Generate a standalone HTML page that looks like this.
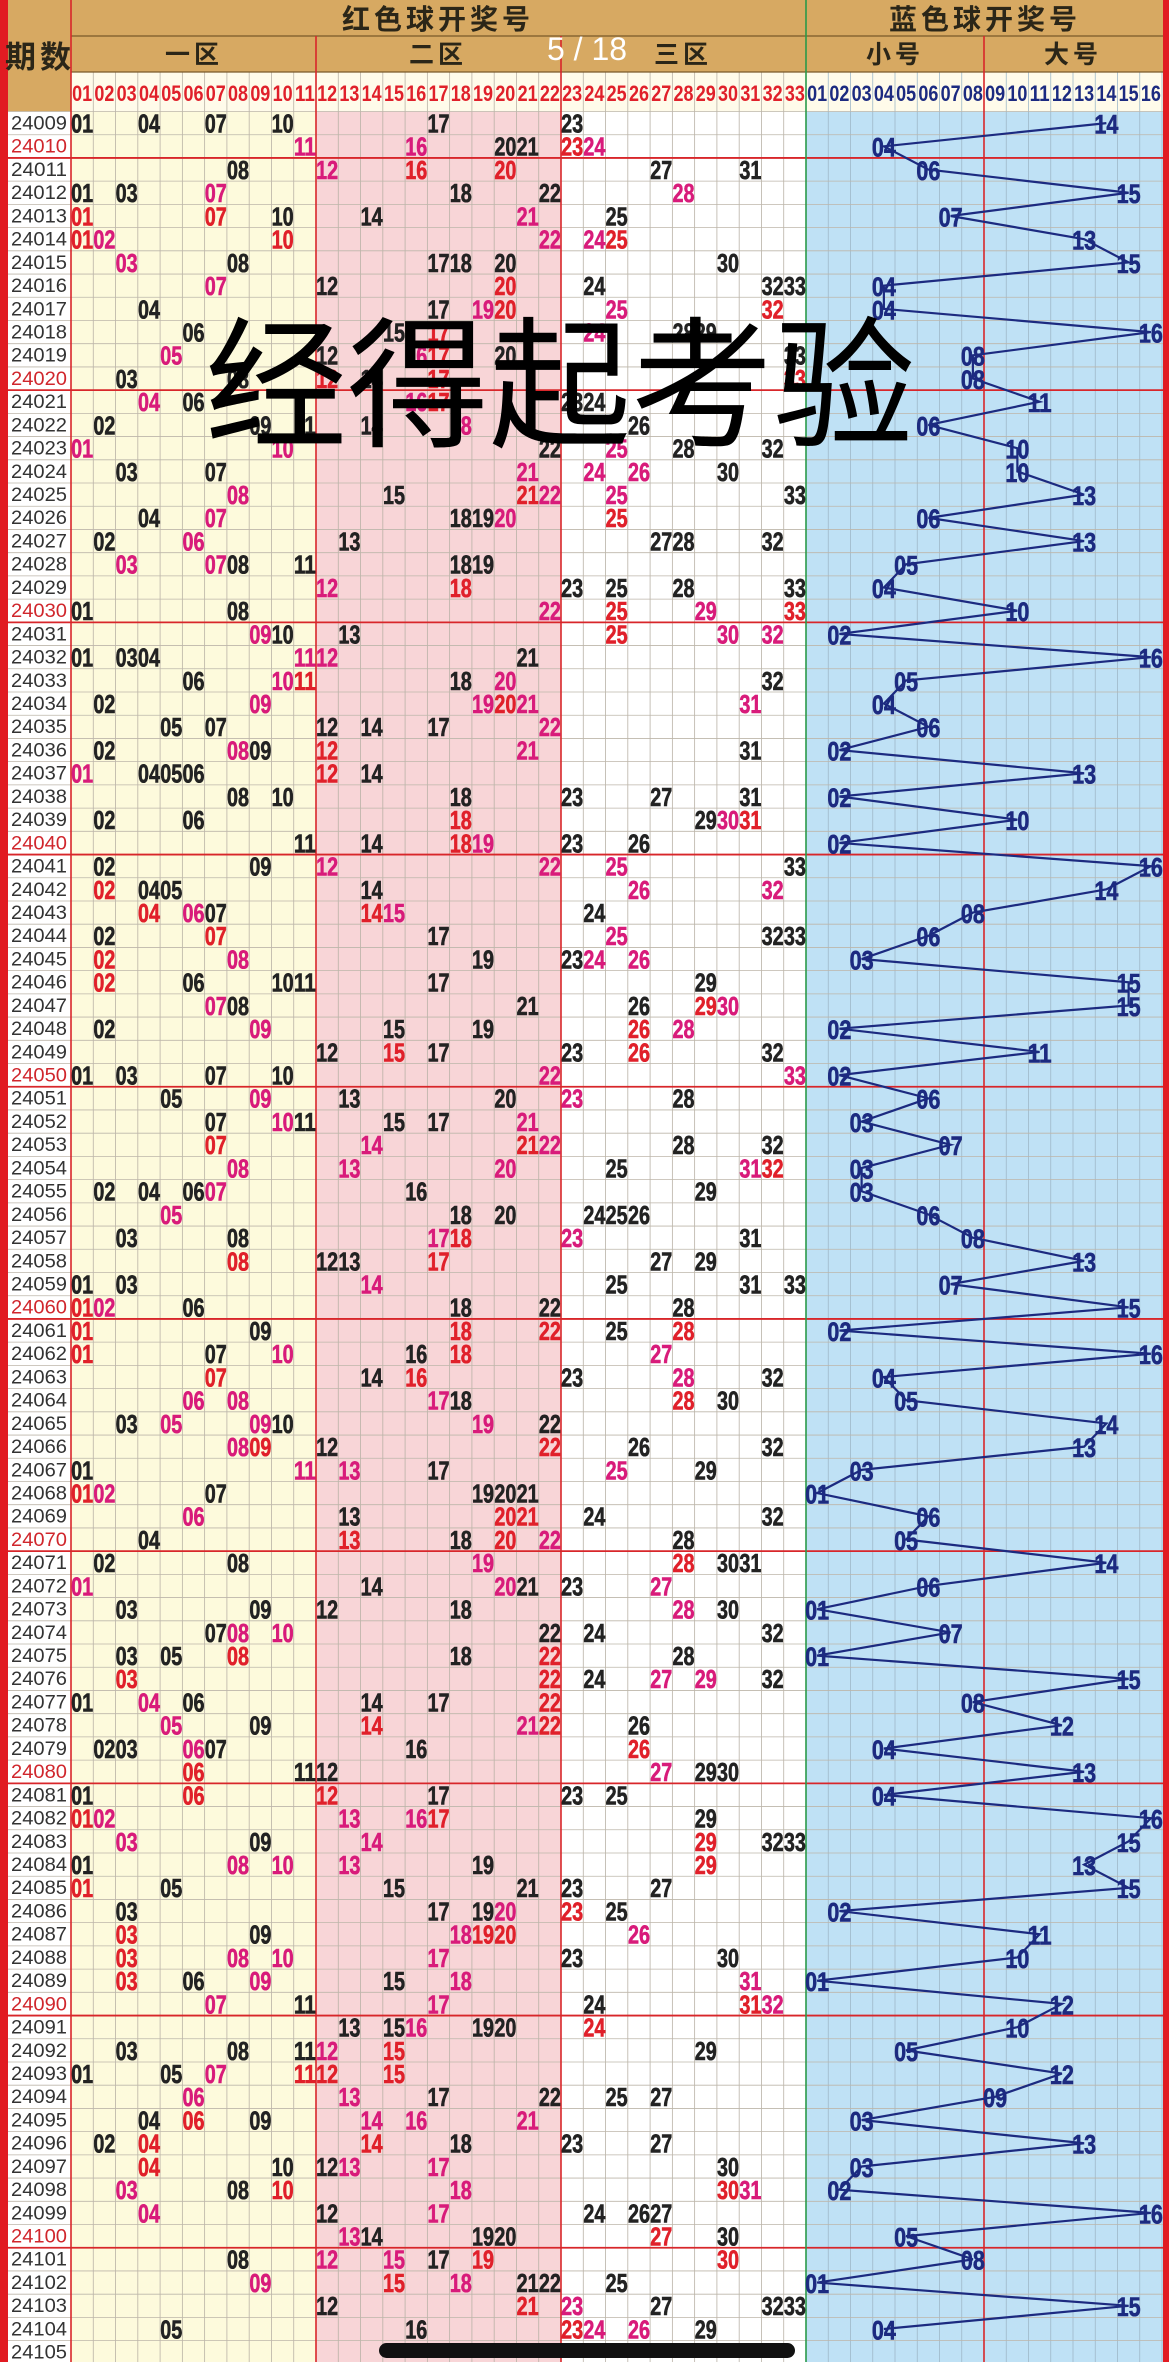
<!DOCTYPE html>
<html><head><meta charset="utf-8">
<style>
html,body{margin:0;padding:0;background:#fff;}
svg{display:block;}
.num{font-family:"Liberation Sans",sans-serif;font-weight:bold;}
.per{font-family:"Liberation Sans",sans-serif;}
.cjk{font-family:"Liberation Sans","Noto Sans CJK SC",sans-serif;}
</style></head>
<body>
<svg id="chart" width="1169" height="2362" viewBox="0 0 1169 2362" xmlns="http://www.w3.org/2000/svg">
  <rect x="0" y="0" width="1169" height="2362" fill="#ffffff"/>
  <g id="bg"></g>
  <g id="grid"></g>
  <g id="header"></g>
  <g id="marks"></g>
  <g id="overlay"></g>
</svg>
<script>
const periods = [];
for (let p = 24009; p <= 24105; p++) periods.push(p);
const redDraws = [
[1,4,7,10,17,23],[11,16,20,21,23,24],[8,12,16,20,27,31],[1,3,7,18,22,28],[1,7,10,14,21,25],
[1,2,10,22,24,25],[3,8,17,18,20,30],[7,12,20,24,32,33],[4,17,19,20,25,32],[6,15,17,24,28,29],
[5,12,16,17,20,33],[3,8,12,14,17,33],[4,6,16,17,23,24],[2,9,11,14,18,26],[1,10,22,25,28,32],
[3,7,21,24,26,30],[8,15,21,22,25,33],[4,7,18,19,20,25],[2,6,13,27,28,32],[3,7,8,11,18,19],
[12,18,23,25,28,33],[1,8,22,25,29,33],[9,10,13,25,30,32],[1,3,4,11,12,21],[6,10,11,18,20,32],
[2,9,19,20,21,31],[5,7,12,14,17,22],[2,8,9,12,21,31],[1,4,5,6,12,14],[8,10,18,23,27,31],
[2,6,18,29,30,31],[11,14,18,19,23,26],[2,9,12,22,25,33],[2,4,5,14,26,32],[4,6,7,14,15,24],
[2,7,17,25,32,33],[2,8,19,23,24,26],[2,6,10,11,17,29],[7,8,21,26,29,30],[2,9,15,19,26,28],
[12,15,17,23,26,32],[1,3,7,10,22,33],[5,9,13,20,23,28],[7,10,11,15,17,21],[7,14,21,22,28,32],
[8,13,20,25,31,32],[2,4,6,7,16,29],[5,18,20,24,25,26],[3,8,17,18,23,31],[8,12,13,17,27,29],
[1,3,14,25,31,33],[1,2,6,18,22,28],[1,9,18,22,25,28],[1,7,10,16,18,27],[7,14,16,23,28,32],
[6,8,17,18,28,30],[3,5,9,10,19,22],[8,9,12,22,26,32],[1,11,13,17,25,29],[1,2,7,19,20,21],
[6,13,20,21,24,32],[4,13,18,20,22,28],[2,8,19,28,30,31],[1,14,20,21,23,27],[3,9,12,18,28,30],
[7,8,10,22,24,32],[3,5,8,18,22,28],[3,22,24,27,29,32],[1,4,6,14,17,22],[5,9,14,21,22,26],
[2,3,6,7,16,26],[6,11,12,27,29,30],[1,6,12,17,23,25],[1,2,13,16,17,29],[3,9,14,29,32,33],
[1,8,10,13,19,29],[1,5,15,21,23,27],[3,17,19,20,23,25],[3,9,18,19,20,26],[3,8,10,17,23,30],
[3,6,9,15,18,31],[7,11,17,24,31,32],[13,15,16,19,20,24],[3,8,11,12,15,29],[1,5,7,11,12,15],
[6,13,17,22,25,27],[4,6,9,14,16,21],[2,4,14,18,23,27],[4,10,12,13,17,30],[3,8,10,18,30,31],
[4,12,17,24,26,27],[13,14,19,20,27,30],[8,12,15,17,19,30],[9,15,18,21,22,25],[12,21,23,27,32,33],
[5,16,23,24,26,29],[]
];
const blueDraws = [14,4,6,15,7,13,15,4,4,16,8,8,11,6,10,10,13,6,13,5,4,10,2,16,5,4,6,2,13,2,10,2,
16,14,8,6,3,15,15,2,11,2,6,3,7,3,3,6,8,13,7,15,2,16,4,5,14,13,3,1,6,5,14,6,1,7,1,15,8,12,4,13,
4,16,15,13,15,2,11,10,1,12,10,5,12,9,3,13,3,2,16,5,8,1,15,4];
const redHeader = ["01","02","03","04","05","06","07","08","09","10","11","12","13","14","15","16","17","18","19","20","21","22","23","24","25","26","27","28","29","30","31","32","33"];
const blueHeader = ["01","02","03","04","05","06","07","08","09","10","11","12","13","14","15","16"];

const NS = "http://www.w3.org/2000/svg";
const Y0 = 111.5, RH = 23.22, X0 = 71, CW = 245/11, BX0 = 806, BW = 22.25;
function xRed(n){ return X0 + (n-1)*CW + CW/2; }
function xBlue(n){ return BX0 + (n-1)*BW + BW/2; }
function yRow(i){ return Y0 + i*RH; }
function mk(parent, tag, attrs, text){
  const e = document.createElementNS(NS, tag);
  for (const k in attrs) e.setAttribute(k, attrs[k]);
  if (text !== undefined) e.textContent = text;
  parent.appendChild(e);
  return e;
}
const bg = document.getElementById('bg'), grid = document.getElementById('grid'),
      hdr = document.getElementById('header'), marks = document.getElementById('marks'),
      ov = document.getElementById('overlay');
const bottom = 2362;
let e;
e = mk(bg,'rect',{x:X0,y:72,width:245,height:bottom-72,fill:'#fdfadc'});
 
e = mk(bg,'rect',{x:X0+245,y:72,width:245,height:bottom-72,fill:'#f8d5d7'});
 
e = mk(bg,'rect',{x:BX0,y:72,width:357,height:bottom-72,fill:'#bfe1f5'});
 
mk(bg,'rect',{x:X0,y:72,width:1163-X0,height:Y0-72,fill:'#fffbea'});
e = mk(bg,'rect',{x:0,y:0,width:1169,height:72,fill:'#d7a962'});
 
mk(bg,'rect',{x:0,y:72,width:X0,height:Y0-72,fill:'#d7a962'});
for (let c=0;c<=33;c++){ mk(grid,'line',{x1:X0+c*CW,y1:72,x2:X0+c*CW,y2:bottom,stroke:'#b9b2a6','stroke-width':0.8}); }
for (let c=0;c<=16;c++){ mk(grid,'line',{x1:BX0+c*BW,y1:72,x2:BX0+c*BW,y2:bottom,stroke:'#9fb8c8','stroke-width':0.8}); }
for (let i=0;i<=periods.length;i++){
  const y=yRow(i);
  const isBlock = (i>0 && (i-2)%10===0);
  mk(grid,'line',{x1:8,y1:y,x2:1163,y2:y,stroke:isBlock?'#d8262a':'#bdb6aa','stroke-width':isBlock?1.8:0.8});
}
mk(grid,'line',{x1:X0,y1:36,x2:1163,y2:36,stroke:'#7a5a2a','stroke-width':1.2});
mk(grid,'line',{x1:X0,y1:72,x2:1163,y2:72,stroke:'#7a5a2a','stroke-width':1.2});
mk(grid,'line',{x1:X0,y1:0,x2:X0,y2:bottom,stroke:'#d8262a','stroke-width':1.6});
mk(grid,'line',{x1:316,y1:36,x2:316,y2:bottom,stroke:'#d8262a','stroke-width':1.6});
mk(grid,'line',{x1:561,y1:36,x2:561,y2:bottom,stroke:'#d8262a','stroke-width':1.6});
mk(grid,'line',{x1:984,y1:36,x2:984,y2:bottom,stroke:'#d8262a','stroke-width':1.6});
mk(grid,'line',{x1:806,y1:0,x2:806,y2:bottom,stroke:'#2a9a4a','stroke-width':1.6});
e = mk(grid,'rect',{x:0,y:0,width:8,height:bottom,fill:'#e11b22'});
 
e = mk(grid,'rect',{x:1163,y:0,width:6,height:bottom,fill:'#e11b22'});
 
function htext(x,y,s,size,name){
  const t = mk(hdr,'text',{x:x,y:y,'text-anchor':'middle','font-size':size,'font-weight':'bold',fill:'#2b2618','class':'cjk','letter-spacing':4},s);
   
}
htext(40,68,'期数',31,'period-column-title');
htext(438,29,'红色球开奖号',28,'red-ball-title');
htext(985,29,'蓝色球开奖号',28,'blue-ball-title');
htext(194,63,'一区',25,'zone-1-title');
htext(438,63,'二区',25,'zone-2-title');
htext(683,63,'三区',25,'zone-3-title');
htext(895,63,'小号',25,'small-blue-title');
htext(1073,63,'大号',25,'big-blue-title');
redHeader.forEach((s,i)=>{
  const t = mk(hdr,'text',{x:xRed(i+1),y:101,'text-anchor':'middle','font-size':22,fill:'#e0202a','class':'num',textLength:20,lengthAdjust:'spacingAndGlyphs'},s);
   
});
blueHeader.forEach((s,i)=>{
  const t = mk(hdr,'text',{x:xBlue(i+1),y:101,'text-anchor':'middle','font-size':22,fill:'#1c2a80','class':'num',textLength:20,lengthAdjust:'spacingAndGlyphs'},s);
   
});
periods.forEach((p,i)=>{
  const y = yRow(i);
  const t = mk(marks,'text',{x:39,y:y+18,'text-anchor':'middle','font-size':19,fill:(p%10===0)?'#d0262c':'#333',class:'per',textLength:56,lengthAdjust:'spacingAndGlyphs'},String(p));
   
  const prev = i>0 ? redDraws[i-1] : [];
  (redDraws[i]||[]).forEach(n=>{
    let col = '#222';
    if (prev.indexOf(n)>=0) col = '#e0202a';
    else if (prev.indexOf(n-1)>=0 || prev.indexOf(n+1)>=0) col = '#d81b7a';
    const r = mk(marks,'text',{x:xRed(n),y:y+21,'text-anchor':'middle','font-size':26,fill:col,stroke:col,'stroke-width':0.6,class:'num',textLength:22,lengthAdjust:'spacingAndGlyphs'},String(n).padStart(2,'0'));
     
  });
});
const pts = blueDraws.map((b,i)=>xBlue(b)+','+(yRow(i)+RH/2)).join(' ');
const pl = mk(marks,'polyline',{points:pts,fill:'none',stroke:'#1c2a80','stroke-width':2.2});
 
blueDraws.forEach((b,i)=>{
  const t = mk(marks,'text',{x:xBlue(b),y:yRow(i)+22,'text-anchor':'middle','font-size':27,fill:'#1c2a80',stroke:'#1c2a80','stroke-width':0.6,class:'num',textLength:24,lengthAdjust:'spacingAndGlyphs'},String(b).padStart(2,'0'));
   
});
let o = mk(ov,'text',{x:560,y:436,'text-anchor':'middle','font-size':142,fill:'#000','class':'cjk','font-weight':'400'},'经得起考验');
 
o = mk(ov,'text',{x:587,y:60,'text-anchor':'middle','font-size':32,fill:'#ffffff','class':'per'},'5 / 18');
 
o = mk(ov,'rect',{x:379,y:2343,width:416,height:15,rx:7.5,fill:'#111'});
 
</script>
</body></html>
